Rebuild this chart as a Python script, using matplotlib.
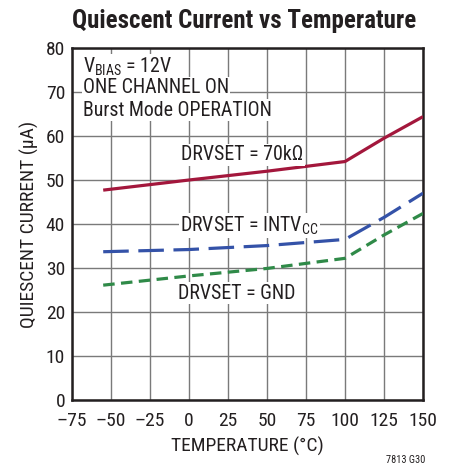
import matplotlib.pyplot as plt
from matplotlib import font_manager

# quiescent current (uA) vs temperature (C)
temp = [-55, 0, 50, 100, 125, 150]
iq_70k = [47.7, 50.0, 52.0, 54.2, 59.5, 64.4]
iq_intvcc = [33.7, 34.2, 35.1, 36.5, 41.5, 47.0]
iq_gnd = [26.1, 28.2, 29.9, 32.2, 37.5, 42.4]

xticks = [-75, -50, -25, 0, 25, 50, 75, 100, 125, 150]
yticks = [0, 10, 20, 30, 40, 50, 60, 70, 80]

# pick a narrow sans for the datasheet look
names = {f.name for f in font_manager.fontManager.ttflist}
fam = 'DejaVu Sans'
for cand in ['Roboto Condensed', 'Archivo Narrow', 'PT Sans Narrow', 'Liberation Sans Narrow',
             'Open Sans Condensed', 'Fira Sans Condensed']:
    if cand in names:
        fam = cand
        break
plt.rcParams['font.family'] = [fam, 'DejaVu Sans']
plt.rcParams['mathtext.fontset'] = 'custom'
plt.rcParams['mathtext.rm'] = fam

fig = plt.figure(figsize=(4.54, 4.68), dpi=100)
ax = fig.add_axes([0.1586, 0.1453, 0.7731, 0.7521])

ax.plot(temp, iq_70k, color='#a3173c', lw=2.3, solid_capstyle='butt', zorder=3)
ax.plot(temp, iq_intvcc, color='#3452a8', lw=2.3, dashes=(8, 3), zorder=3)
ax.plot(temp, iq_gnd, color='#2f8a48', lw=2.3, dashes=(3.6, 2), zorder=3)

ax.set_xlim(-75, 150)
ax.set_ylim(0, 80)
ax.set_xticks(xticks)
ax.set_yticks(yticks)
ax.set_xticklabels([str(t).replace('-', '\u2013') for t in xticks])
ax.tick_params(length=0, labelsize=14, colors='#231f20')
ax.tick_params(axis='x', pad=8.5)
ax.tick_params(axis='y', pad=5)
ax.grid(True, color='#7a7a7a', lw=1)
for s in ax.spines.values():
    s.set_linewidth(1.8)
    s.set_color('#231f20')

ax.set_xlabel('TEMPERATURE (°C)', fontsize=14, color='#231f20', labelpad=5)
ax.set_ylabel('QUIESCENT CURRENT (µA)', fontsize=14, color='#231f20', labelpad=5)
fig.text(0.538, 0.956, 'Quiescent Current vs Temperature', ha='center', va='center',
         fontsize=18, fontweight='bold', color='#231f20')
fig.text(0.936, 0.006, '7813 G30', ha='right', va='bottom', fontsize=7.5, color='#231f20')

box = dict(facecolor='white', edgecolor='none', pad=1)
tk = dict(fontsize=14.3, color='#231f20', zorder=4, bbox=box)
ax.text(-68, 75.7, r'V$_{\mathregular{BIAS}}$ = 12V', va='center', ha='left', **tk)
ax.text(-68, 71.0, 'ONE CHANNEL ON', va='center', ha='left', **tk)
ax.text(-68, 65.9, 'Burst Mode OPERATION', va='center', ha='left', **tk)
ax.text(-5, 55.7, 'DRVSET = 70kΩ', va='center', ha='left', **tk)
ax.text(-5.5, 39.6, r'DRVSET = INTV$_{\mathregular{CC}}$', va='center', ha='left', **tk)
ax.text(-7, 24.3, 'DRVSET = GND', va='center', ha='left', **tk)

fig.savefig('out.png', dpi=100)
